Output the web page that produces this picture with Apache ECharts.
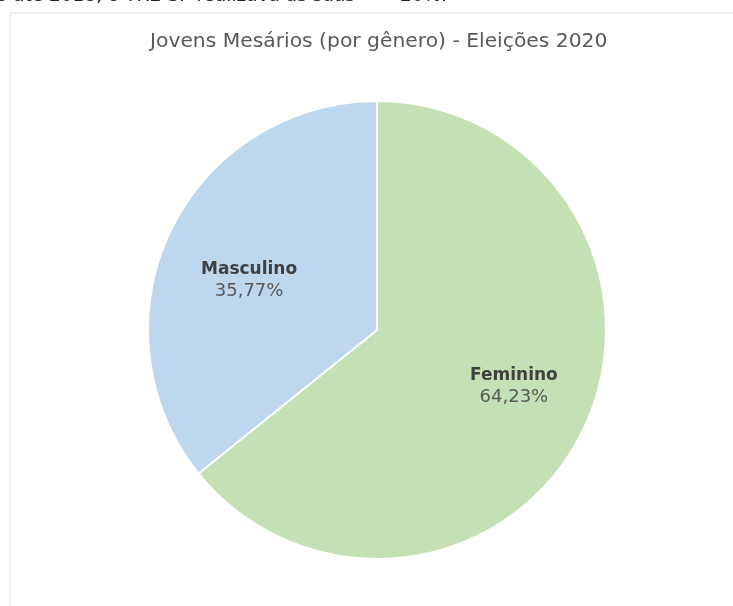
<!DOCTYPE html>
<html>
<head>
<meta charset="utf-8">
<script src="https://cdn.jsdelivr.net/npm/echarts@6/dist/echarts.min.js"></script>
<style>
  html, body { margin: 0; padding: 0; background: #fff; }
  #chart { width: 733px; height: 606px; }
</style>
</head>
<body>
<div id="chart"></div>
<script>
// dados
var categories = ['Feminino', 'Masculino'];
var values = [64.23, 35.77];
var colors = ['#c5e0b4', '#bdd7ee'];
var titleText = 'Jovens Mesários (por gênero) - Eleições 2020';
// deslocamento dos rótulos (px)
var labelOffsets = [[3, -8], [6, 15]];

var pieData = [];
for (var i = 0; i < categories.length; i++) {
  pieData.push({ name: categories[i], value: values[i], itemStyle: { color: colors[i] } });
}

function pct(v) {
  return v.toFixed(2).replace('.', ',') + '%';
}

var chart = echarts.init(document.getElementById('chart'));
chart.setOption({
  animation: false,
  title: {
    text: titleText,
    left: 145,
    top: 27,
    textStyle: {
      fontFamily: 'DejaVu Sans',
      fontSize: 20.3,
      fontWeight: 'normal',
      color: '#595959'
    }
  },
  graphic: [
    {
      type: 'rect',
      shape: { x: 10, y: 13, width: 760, height: 640 },
      style: { fill: 'none', stroke: '#eeeeee', lineWidth: 2 },
      silent: true
    },
    {
      type: 'text',
      x: 355, y: 6,
      style: {
        text: 'o até 2018, o TRE-SP realizava as suas',
        align: 'right', verticalAlign: 'bottom',
        font: '18.5px DejaVu Sans', fill: '#222'
      },
      silent: true
    },
    {
      type: 'text',
      x: 400, y: 6,
      style: {
        text: '20%.',
        align: 'left', verticalAlign: 'bottom',
        font: '18.5px DejaVu Sans', fill: '#222'
      },
      silent: true
    }
  ],
  series: [
    {
      type: 'pie',
      center: [377, 330],
      radius: 229,
      startAngle: 90,
      clockwise: true,
      silent: true,
      label: { show: false },
      labelLine: { show: false },
      itemStyle: { borderColor: '#ffffff', borderWidth: 2 },
      data: pieData
    },
    {
      // camada só para os rótulos
      type: 'pie',
      center: [377, 330],
      radius: [62, 229],
      startAngle: 90,
      clockwise: true,
      silent: true,
      itemStyle: { color: 'rgba(0,0,0,0)' },
      labelLine: { show: false },
      label: {
        show: true,
        position: 'inside',
        lineHeight: 22,
        formatter: function (p) {
          return '{n|' + p.name + '}\n{v|' + pct(p.value) + '}';
        },
        rich: {
          n: { fontFamily: 'DejaVu Sans', fontSize: 17, fontWeight: 'bold', color: '#404040', lineHeight: 22 },
          v: { fontFamily: 'DejaVu Sans', fontSize: 18, color: '#595959', lineHeight: 22 }
        }
      },
      data: categories.map(function (c, i) {
        return { name: c, value: values[i], label: { offset: labelOffsets[i] } };
      })
    }
  ]
});
</script>
</body>
</html>
